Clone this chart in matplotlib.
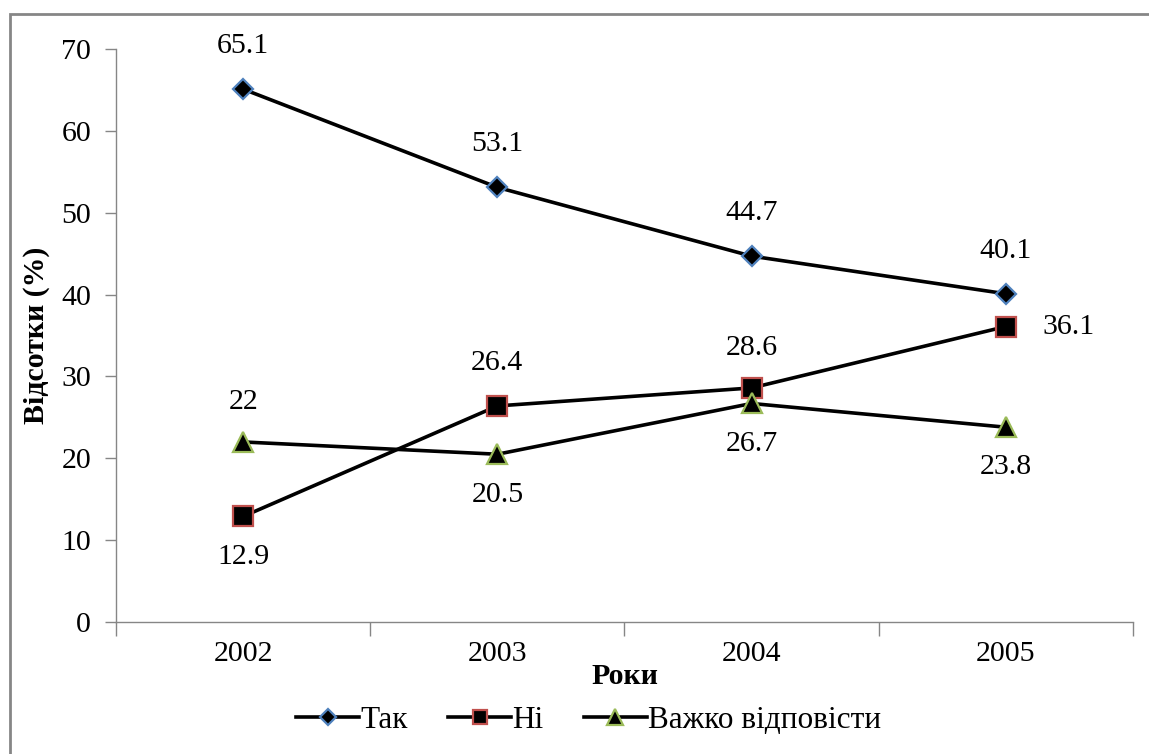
import matplotlib.pyplot as plt
from matplotlib.patches import Rectangle

# Дані діаграми
years = ['2002', '2003', '2004', '2005']
tak = [65.1, 53.1, 44.7, 40.1]
ni = [12.9, 26.4, 28.6, 36.1]
vazhko = [22, 20.5, 26.7, 23.8]
y_ticks = [0, 10, 20, 30, 40, 50, 60, 70]

plt.rcParams['font.family'] = ['Liberation Serif', 'DejaVu Serif']

fig = plt.figure(figsize=(11.49, 7.54), dpi=100)
ax = fig.add_axes([0.101, 0.175, 0.885, 0.760])

x = list(range(len(years)))
ax.plot(x, tak, color='black', lw=2.6, marker='D', ms=10.5,
        mfc='black', mec='#4F81BD', mew=1.6, label='Так', zorder=3)
ax.plot(x, ni, color='black', lw=2.6, marker='s', ms=14,
        mfc='black', mec='#C0504D', mew=1.6, label='Ні', zorder=3)
ax.plot(x, vazhko, color='black', lw=2.6, marker='^', ms=15,
        mfc='black', mec='#9BBB59', mew=1.6, label='Важко відповісти', zorder=3)

fs = 21.5
# підписи значень
for i, v in enumerate(tak):
    ax.annotate(f'{v:g}', (i, v), xytext=(0, 31), textcoords='offset points',
                ha='center', va='center', fontsize=fs)
ni_off = [(0, -29), (0, 31), (0, 29), (45, 0)]
for i, v in enumerate(ni):
    ax.annotate(f'{v:g}', (i, v), xytext=ni_off[i], textcoords='offset points',
                ha='center', va='center', fontsize=fs)
vz_off = [(0, 29), (0, -29), (0, -29), (0, -29)]
for i, v in enumerate(vazhko):
    ax.annotate(f'{v:g}', (i, v), xytext=vz_off[i], textcoords='offset points',
                ha='center', va='center', fontsize=fs)

ax.set_xlim(-0.5, 3.5)
ax.set_ylim(0, 70)
ax.set_yticks(y_ticks)
ax.set_xticks(x)
ax.set_xticklabels(years)
ax.set_xticks([-0.5, 0.5, 1.5, 2.5, 3.5], minor=True)
ax.tick_params(axis='x', which='major', length=0, pad=14, labelsize=fs)
ax.tick_params(axis='x', which='minor', length=10, color='#868686', width=1)
ax.tick_params(axis='y', length=8, color='#868686', width=1, pad=10, labelsize=fs)

for s in ['top', 'right']:
    ax.spines[s].set_visible(False)
for s in ['left', 'bottom']:
    ax.spines[s].set_color('#868686')
    ax.spines[s].set_linewidth(1)

ax.set_ylabel('Відсотки (%)', fontsize=fs, fontweight='bold', labelpad=8)
ax.set_xlabel('Роки', fontsize=fs, fontweight='bold', labelpad=-3)

ax.legend(loc='upper center', bbox_to_anchor=(0.465, -0.124), ncol=3, frameon=False,
          fontsize=22.5, handlelength=2.0, handletextpad=0.05, columnspacing=1.3,
          markerscale=0.75, borderaxespad=0)

# рамка діаграми
fig.patches.append(Rectangle((10 / 1149, -0.01), 1.02, 1 - 14 / 754 + 0.01,
                             transform=fig.transFigure, fill=False,
                             edgecolor='#868686', lw=2))

fig.savefig('out.png', dpi=100)
